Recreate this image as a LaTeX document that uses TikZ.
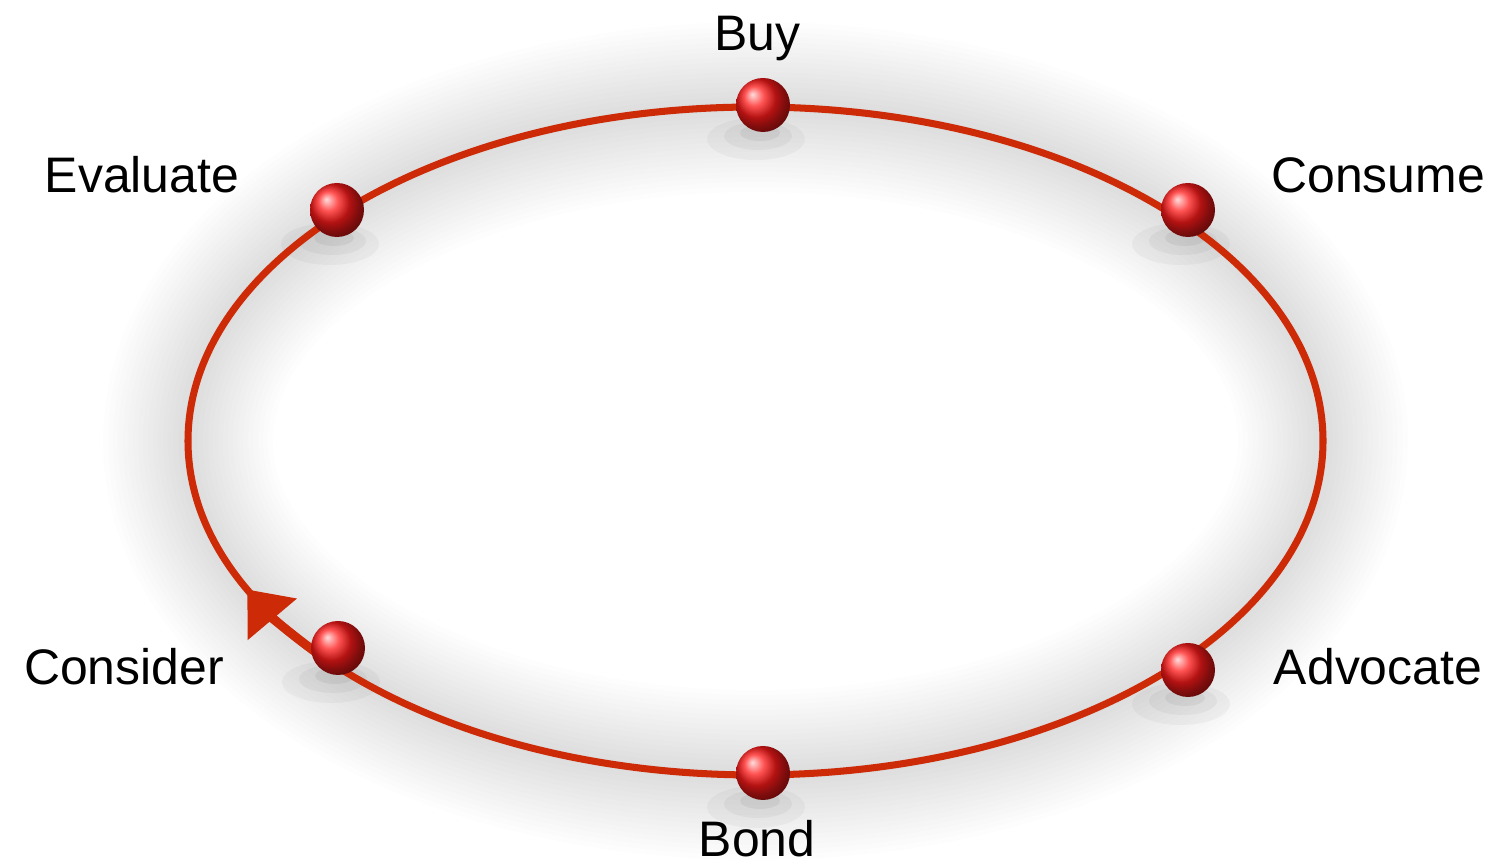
\documentclass[tikz,border=0pt]{standalone}
\usepackage{fontspec}
\setmainfont{Liberation Sans}
\usepackage{tikz}
\usetikzlibrary{arrows.meta, calc}

\definecolor{trackred}{RGB}{205,42,8}

\begin{document}
\begin{tikzpicture}[
   stage/.style={circle, minimum size=5.4mm, inner sep=0pt, ball color=red!90!white},
   lbl/.style={anchor=base, font=\fontsize{14.2}{17}\selectfont},
   track/.style={draw=trackred, line width=2pt},
   ]
   \useasboundingbox (0,0) rectangle (14.95,8.64);
   \coordinate (c) at (7.555,4.23);

   % soft grey halo round the loop
   \foreach \w in {0.1,0.2,...,1.7}
   \draw[black, opacity=0.006, line width=\w cm] (c) ellipse [x radius=5.675, y radius=3.34];

   % shadows under the stages
   \foreach \p in {(7.63,7.59), (3.37,6.54), (11.88,6.54), (3.38,2.16), (11.88,1.94), (7.63,0.91)}
   {
   \fill[black, opacity=0.035] \p ++(-0.07,-0.34) ellipse [x radius=0.49, y radius=0.21];
   \fill[black, opacity=0.04] \p ++(-0.05,-0.31) ellipse [x radius=0.34, y radius=0.14];
   \fill[black, opacity=0.05] \p ++(-0.03,-0.28) ellipse [x radius=0.2, y radius=0.08];
   }

   % the loop itself
   \draw[track] (c) ellipse [x radius=5.675, y radius=3.34];
   \draw[trackred, line width=2.6pt, -{Triangle[length=3.9mm, width=6.2mm]}]
   ($(c)+(220:5.675 and 3.34)$) arc [start angle=220, end angle=206.4, x radius=5.675, y radius=3.34];

   % stages
   \node[stage] (buy) at (7.63,7.59) {};
   \node[stage] (evaluate) at (3.37,6.54) {};
   \node[stage] (consume) at (11.88,6.54) {};
   \node[stage] (consider) at (3.38,2.16) {};
   \node[stage] (advocate) at (11.88,1.94) {};
   \node[stage] (bond) at (7.63,0.91) {};

   % labels
   \node[lbl] (buy-l) at (7.57,8.13) {Buy};
   \node[lbl] (evaluate-l) at (1.42,6.71) {Evaluate};
   \node[lbl] (consume-l) at (13.78,6.71) {Consume};
   \node[lbl] (consider-l) at (1.24,1.79) {Consider};
   \node[lbl] (advocate-l) at (13.78,1.79) {Advocate};
   \node[lbl] (bond-l) at (7.57,0.07) {Bond};
\end{tikzpicture}
\end{document}
